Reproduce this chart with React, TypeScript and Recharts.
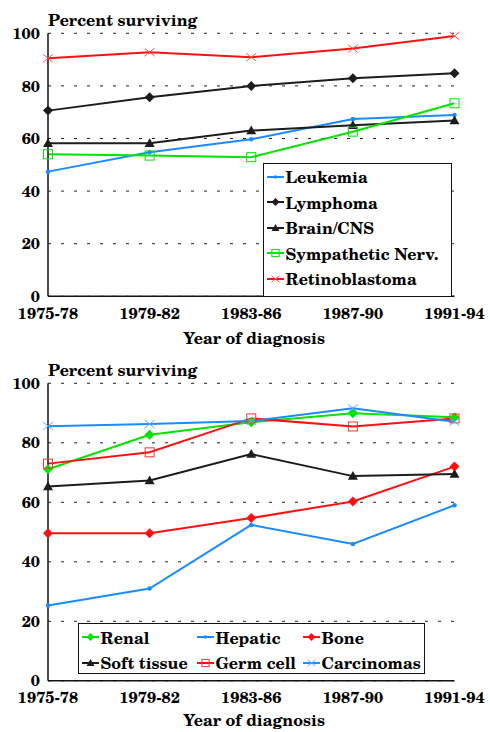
import { LineChart, Line, XAxis, YAxis, CartesianGrid, Legend, Label } from "recharts";

const periods = ["1975-78", "1979-82", "1983-86", "1987-90", "1991-94"];
const yTicks = [0, 20, 40, 60, 80, 100];

// upper panel
const leukemia = [47.4, 54.8, 59.7, 67.4, 68.9];
const lymphoma = [70.6, 75.7, 80.0, 82.9, 84.8];
const brainCns = [58.2, 58.2, 63.0, 65.0, 66.8];
const sympatheticNerv = [54.0, 53.5, 52.9, 62.6, 73.4];
const retinoblastoma = [90.5, 92.8, 90.9, 94.2, 99.0];

// lower panel
const renal = [71.1, 82.7, 86.9, 89.9, 88.6];
const hepatic = [25.3, 31.0, 52.4, 46.0, 59.0];
const bone = [49.6, 49.6, 54.7, 60.3, 72.0];
const softTissue = [65.3, 67.3, 76.2, 68.8, 69.5];
const germCell = [73.0, 76.8, 88.2, 85.5, 88.2];
const carcinomas = [85.6, 86.3, 87.3, 91.6, 87.1];

const FONT = '"TeX Gyre Schola", "DejaVu Serif", serif';
const FS = 16;
const BLUE = "#1a8cff";
const GREEN = "#00e400";
const RED = "#ff1010";
const BLACK = "#1c1c1c";

type MarkerKind = "dot" | "diamond" | "triangle" | "square" | "cross";

interface Series {
  key: string;
  name: string;
  values: number[];
  color: string;
  markerColor: string;
  marker: MarkerKind;
}

const upperSeries: Series[] = [
  { key: "leukemia", name: "Leukemia", values: leukemia, color: BLUE, markerColor: BLUE, marker: "dot" },
  { key: "lymphoma", name: "Lymphoma", values: lymphoma, color: BLACK, markerColor: BLACK, marker: "diamond" },
  { key: "brain", name: "Brain/CNS", values: brainCns, color: BLACK, markerColor: BLACK, marker: "triangle" },
  { key: "symp", name: "Sympathetic Nerv.", values: sympatheticNerv, color: GREEN, markerColor: GREEN, marker: "square" },
  { key: "retino", name: "Retinoblastoma", values: retinoblastoma, color: RED, markerColor: "#ff5050", marker: "cross" },
];

const lowerSeries: Series[] = [
  { key: "renal", name: "Renal", values: renal, color: GREEN, markerColor: GREEN, marker: "diamond" },
  { key: "hepatic", name: "Hepatic", values: hepatic, color: BLUE, markerColor: BLUE, marker: "dot" },
  { key: "bone", name: "Bone", values: bone, color: RED, markerColor: RED, marker: "diamond" },
  { key: "soft", name: "Soft tissue", values: softTissue, color: BLACK, markerColor: BLACK, marker: "triangle" },
  { key: "germ", name: "Germ cell", values: germCell, color: RED, markerColor: "#ff3030", marker: "square" },
  { key: "carc", name: "Carcinomas", values: carcinomas, color: BLUE, markerColor: "#5aaeff", marker: "cross" },
];

const buildRows = (series: Series[]) =>
  periods.map((period, i) => {
    const row: Record<string, string | number> = { period };
    series.forEach((s) => (row[s.key] = s.values[i]));
    return row;
  });

function Marker({ kind, cx, cy, color, size = 5 }: { kind: MarkerKind; cx: number; cy: number; color: string; size?: number }) {
  const s = size;
  switch (kind) {
    case "dot":
      return <circle cx={cx} cy={cy} r={s * 0.45} fill={color} />;
    case "diamond":
      return <polygon points={`${cx},${cy - s} ${cx + s},${cy} ${cx},${cy + s} ${cx - s},${cy}`} fill={color} />;
    case "triangle":
      return <polygon points={`${cx},${cy - s} ${cx + s},${cy + s * 0.75} ${cx - s},${cy + s * 0.75}`} fill={color} />;
    case "square":
      return <rect x={cx - s * 0.9} y={cy - s * 0.9} width={s * 1.8} height={s * 1.8} fill="none" stroke={color} strokeWidth={1} />;
    case "cross":
      return (
        <g stroke={color} strokeWidth={1}>
          <line x1={cx - s} y1={cy - s * 0.8} x2={cx + s} y2={cy + s * 0.8} />
          <line x1={cx - s} y1={cy + s * 0.8} x2={cx + s} y2={cy - s * 0.8} />
        </g>
      );
  }
  return null;
}

function LegendItem({ s }: { s: Series }) {
  return (
    <div style={{ display: "flex", alignItems: "center", height: 25.5, whiteSpace: "nowrap" }}>
      <svg width={17} height={12} style={{ marginRight: 2, flex: "none" }}>
        <line x1={0} y1={6} x2={17} y2={6} stroke={s.color} strokeWidth={2} />
        <Marker kind={s.marker} cx={8.5} cy={6} color={s.markerColor} size={4} />
      </svg>
      <span>{s.name}</span>
    </div>
  );
}

const tickStyle = { fill: "#000", fontSize: FS, fontWeight: 700, fontFamily: FONT };
const boxLine = { stroke: "#111", strokeWidth: 1.5 };

interface PanelProps {
  series: Series[];
  top: number;
  height: number;
  marginTop: number;
  marginBottom: number;
  titleGap: number;
  legendBox: { left: number; top: number; width: number; height: number };
  columns?: string;
}

function Panel({ series, top, height, marginTop, marginBottom, titleGap, legendBox, columns }: PanelProps) {
  const data = buildRows(series);
  return (
    <div style={{ position: "absolute", left: 0, top }}>
      <LineChart
        width={490}
        height={height}
        data={data}
        margin={{ top: marginTop, right: 35.5, bottom: marginBottom, left: 0 }}
      >
        <CartesianGrid vertical={false} stroke="#222" strokeDasharray="3 10" />
        <XAxis
          dataKey="period"
          interval={0}
          tickLine={false}
          tickSize={0}
          tickMargin={11}
          height={50}
          axisLine={boxLine}
          tick={tickStyle}
        >
          <Label
            content={({ viewBox }: any) => (
              <text
                x={viewBox.x + viewBox.width / 2 + 3}
                y={viewBox.y + titleGap}
                textAnchor="middle"
                fontSize={FS}
                fontWeight={700}
                fontFamily={FONT}
                fill="#000"
              >
                Year of diagnosis
              </text>
            )}
          />
        </XAxis>
        <XAxis xAxisId="top" dataKey="period" orientation="top" height={0} tick={false} tickLine={false} axisLine={boxLine} />
        <YAxis
          domain={[0, 100]}
          ticks={yTicks}
          width={48}
          tickLine={false}
          tickSize={0}
          tickMargin={8}
          axisLine={boxLine}
          tick={tickStyle}
        >
          <Label
            content={({ viewBox }: any) => (
              <text
                x={viewBox.x + viewBox.width}
                y={viewBox.y - 7}
                fontSize={FS}
                fontWeight={700}
                fontFamily={FONT}
                fill="#000"
              >
                Percent surviving
              </text>
            )}
          />
        </YAxis>
        <YAxis yAxisId="right" orientation="right" domain={[0, 100]} width={0} tick={false} tickLine={false} axisLine={boxLine} />
        {series.map((s) => (
          <Line
            key={s.key}
            dataKey={s.key}
            name={s.name}
            stroke={s.color}
            strokeWidth={2}
            isAnimationActive={false}
            activeDot={false}
            dot={(p: any) => (
              <Marker key={`${s.key}-${p.index}`} kind={s.marker} cx={p.cx} cy={p.cy} color={s.markerColor} />
            )}
          />
        ))}
        <Legend
          layout="horizontal"
          verticalAlign="middle"
          align="center"
          wrapperStyle={{ ...legendBox, position: "absolute" }}
          content={() => (
            <div
              style={{
                boxSizing: "border-box",
                width: legendBox.width,
                height: legendBox.height,
                border: "1.5px solid #111",
                background: "#fff",
                fontFamily: FONT,
                fontWeight: 700,
                fontSize: FS,
                color: "#000",
                padding: "0 0 0 3px",
                display: "grid",
                gridTemplateColumns: columns ?? "1fr",
                alignContent: "start",
              }}
            >
              {series.map((s) => (
                <LegendItem key={s.key} s={s} />
              ))}
            </div>
          )}
        />
      </LineChart>
    </div>
  );
}

export default function App() {
  return (
    <div style={{ position: "absolute", left: 0, top: 0, width: 490, height: 732, background: "#fff", fontFamily: FONT }}>
      <Panel
        series={upperSeries}
        top={0}
        height={350}
        marginTop={33.3}
        marginBottom={3.7}
        titleGap={48}
        legendBox={{ left: 262.5, top: 163, width: 189, height: 134 }}
      />
      <Panel
        series={lowerSeries}
        top={350}
        height={382}
        marginTop={33.3}
        marginBottom={1.2}
        titleGap={45.5}
        legendBox={{ left: 77.5, top: 273.3, width: 347, height: 51 }}
        columns="115px 106px 1fr"
      />
    </div>
  );
}
